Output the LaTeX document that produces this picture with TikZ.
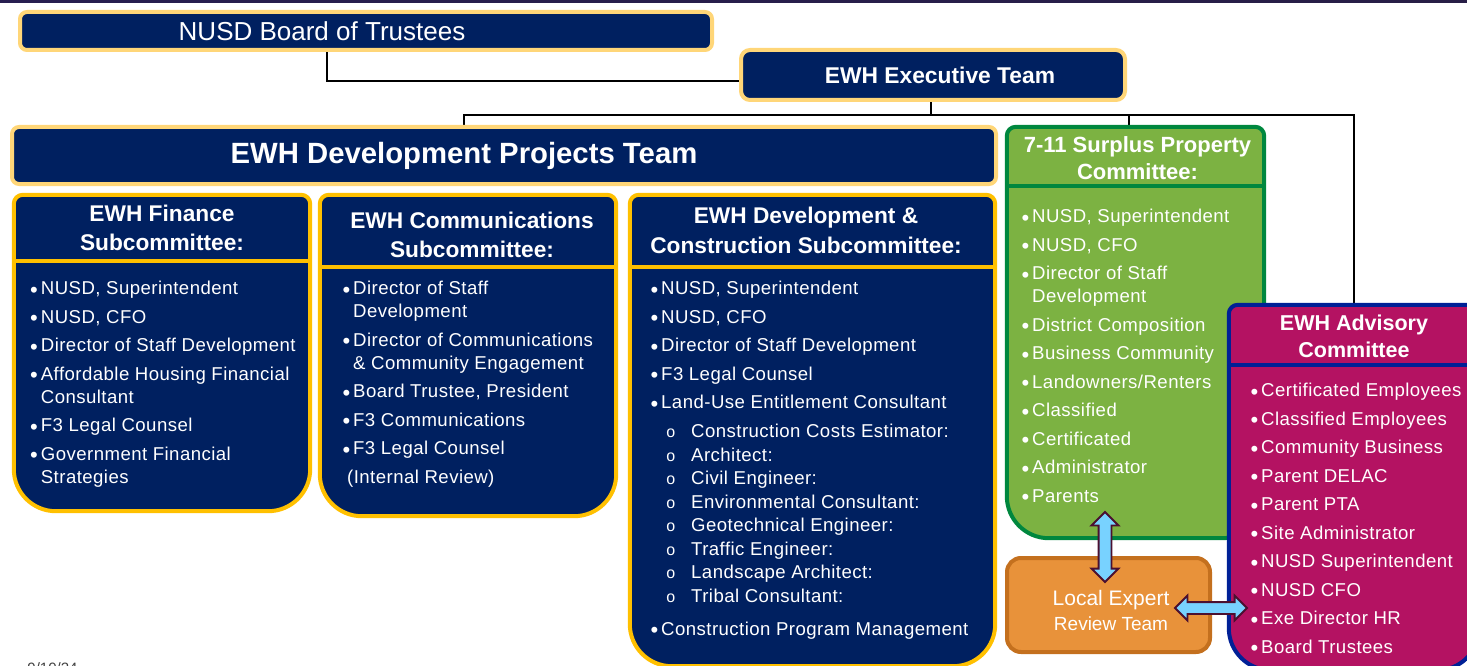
\documentclass[tikz,border=0pt]{standalone}
\usepackage{fontspec}
\setmainfont{Liberation Sans}
\newfontfamily\listfont{Liberation Sans}[LetterSpace=2.4]
\usepackage{tikz}
\usetikzlibrary{shapes.arrows, backgrounds}

\definecolor{navy}{RGB}{0,32,96}
\definecolor{paleGold}{RGB}{255,214,120}
\definecolor{gold}{RGB}{255,192,0}
\definecolor{leaf}{RGB}{124,178,66}
\definecolor{leafEdge}{RGB}{0,135,62}
\definecolor{berry}{RGB}{180,18,98}
\definecolor{berryEdge}{RGB}{0,32,150}
\definecolor{amber}{RGB}{232,146,58}
\definecolor{amberEdge}{RGB}{196,112,30}
\definecolor{sky}{RGB}{120,210,255}
\definecolor{plum}{RGB}{75,16,48}
\definecolor{barL}{RGB}{40,30,80}
\definecolor{barM}{RGB}{95,42,95}
\definecolor{barR}{RGB}{40,30,70}

\newcommand{\bul}{\llap{\raisebox{-2.6pt}{\fontsize{22}{22}\selectfont\textbullet}\hspace{3pt}}}
\newcommand{\subbul}{\llap{\fontsize{16}{16}\selectfont o\hspace{16pt}}}
% committee outline: small top corners, large bottom corners, rule under the header
\newcommand{\panelshape}[4]{%
	\filldraw[fill=#2, draw=#3, line width=4pt]
		(#1.north) [rounded corners=9pt] -| (#1.east)
		[rounded corners=42pt] |- (#1.south) -| (#1.west)
		[rounded corners=9pt] |- (#1.north);
	\draw[#3, line width=4pt] (#1.west |- 0,#4) -- (#1.east |- 0,#4);}

\begin{document}
\begin{tikzpicture}[x=1pt, y=-1pt]
	\tikzstyle{team} = [rectangle, rounded corners=7pt, fill=navy, draw=paleGold, line width=4pt, text=white, inner sep=0pt]
	\tikzstyle{panel} = [rectangle, inner sep=0pt]
	\tikzstyle{head} = [text=white, align=center, inner sep=0pt, font=\bfseries\fontsize{22.7}{29.5}\selectfont]
	\tikzstyle{body} = [text=white, align=left, anchor=north west, inner sep=0pt, font=\listfont\fontsize{18.6}{23}\selectfont]
	\tikzstyle{link} = [line width=2pt, draw=black]
	\tikzstyle{twoway} = [double arrow, fill=sky, draw=plum, line width=1.8pt, inner xsep=0pt, inner ysep=5.5pt, double arrow head extend=7pt, double arrow tip angle=90]

	\useasboundingbox (0,0) rectangle (1467,666);
	\clip (0,0) rectangle (1467,666);
	\fill[left color=barL, middle color=barM, right color=barR] (0,0) rectangle (1467,3);

	% top row
	\node[team, minimum width=692pt, minimum height=38pt, font=\fontsize{26}{30}\selectfont] at (366,31) (board) {NUSD Board of Trustees\hspace*{88pt}};
	\node[team, rounded corners=9pt, minimum width=384pt, minimum height=50pt, font=\bfseries\fontsize{22.8}{26}\selectfont] at (933,75) (exec) {\hspace*{14pt}EWH Executive Team};
	\node[team, minimum width=984pt, minimum height=57pt, font=\bfseries\fontsize{29.3}{32}\selectfont] at (504,155.5) (dpt) {EWH Development Projects Team\hspace*{80pt}};

	% committee frames
	\node[panel, minimum width=296pt, minimum height=316pt] at (162,353) (fin) {};
	\node[panel, minimum width=296pt, minimum height=321pt] at (468,355.5) (com) {};
	\node[panel, minimum width=365pt, minimum height=471pt] at (812.5,430.5) (dev) {};
	\node[panel, minimum width=257pt, minimum height=411pt] at (1135.5,332.5) (sur) {};
	\node[panel, minimum width=250pt, minimum height=365pt] at (1354,487.5) (adv) {};

	\coordinate (bus) at (0,115);
	\begin{pgfonlayer}{background}
		\draw[link] (board.south -| 327,0) |- (exec.west |- 0,81);
		\draw[link] (exec.south -| 931,0) -- (931,0 |- bus);
		\draw[link] (dpt.north -| 464,0) |- (adv.north |- bus) -- (adv.north);
		\draw[link] (sur.north -| 1129,0) -- (1129,0 |- bus);
	\end{pgfonlayer}

	\panelshape{fin}{navy}{gold}{261}
	\panelshape{com}{navy}{gold}{267}
	\panelshape{dev}{navy}{gold}{267}
	\panelshape{sur}{leaf}{leafEdge}{186}

	\node[head] at (162,228) (finHead) {EWH Finance\\Subcommittee:};
	\node[head] at (472,235) (comHead) {EWH Communications\\Subcommittee:};
	\node[head] at (806,230.5) (devHead) {EWH Development \&\\Construction Subcommittee:};
	\node[head, font=\bfseries\fontsize{22}{27}\selectfont] at (1137.5,158.5) (surHead) {7-11 Surplus Property\\Committee:};

	\node[body] at (40.7,281) (finList) {\bul NUSD, Superintendent\\[5.5pt]
		\bul NUSD, CFO\\[5.5pt]
		\bul Director of Staff Development\\[5.5pt]
		\bul Affordable Housing Financial\\
		Consultant\\[5.5pt]
		\bul F3 Legal Counsel\\[5.5pt]
		\bul Government Financial\\
		Strategies};
	\node[body] at (353,281) (comList) {\bul Director of Staff\\
		Development\\[5.5pt]
		\bul Director of Communications\\
		\& Community Engagement\\[5.5pt]
		\bul Board Trustee, President\\[5.5pt]
		\bul F3 Communications\\[5.5pt]
		\bul F3 Legal Counsel\\[5.5pt]
		\hspace*{-6pt}(Internal Review)};
	\node[body] at (661,281) (devList) {\bul NUSD, Superintendent\\[5.5pt]
		\bul NUSD, CFO\\[5.5pt]
		\bul Director of Staff Development\\[5.5pt]
		\bul F3 Legal Counsel\\[5.5pt]
		\bul Land-Use Entitlement Consultant\\[6pt]
		\hspace*{30pt}\subbul Construction Costs Estimator:\\[0.5pt]
		\hspace*{30pt}\subbul Architect:\\[0.5pt]
		\hspace*{30pt}\subbul Civil Engineer:\\[0.5pt]
		\hspace*{30pt}\subbul Environmental Consultant:\\[0.5pt]
		\hspace*{30pt}\subbul Geotechnical Engineer:\\[0.5pt]
		\hspace*{30pt}\subbul Traffic Engineer:\\[0.5pt]
		\hspace*{30pt}\subbul Landscape Architect:\\[0.5pt]
		\hspace*{30pt}\subbul Tribal Consultant:\\[10pt]
		\bul Construction Program Management};
	\node[body] at (1032,209) (surList) {\bul NUSD, Superintendent\\[5.5pt]
		\bul NUSD, CFO\\[5.5pt]
		\bul Director of Staff\\
		Development\\[5.5pt]
		\bul District Composition\\[5.5pt]
		\bul Business Community\\[5.5pt]
		\bul Landowners/Renters\\[5.5pt]
		\bul Classified\\[5.5pt]
		\bul Certificated\\[5.5pt]
		\bul Administrator\\[5.5pt]
		\bul Parents};

	% local review team and advisory committee
	\node[rectangle, rounded corners=14pt, fill=amber, draw=amberEdge, line width=4pt, minimum width=203pt, minimum height=94pt, inner sep=0pt] at (1108.5,605) (lexp) {};
	\node[text=white, align=center, inner sep=0pt, font=\fontsize{21}{25}\selectfont] at (1111,610.5) (lexpText) {Local Expert\\{\fontsize{19}{25}\selectfont Review Team}};

	\panelshape{adv}{berry}{berryEdge}{365}
	\node[head, font=\bfseries\fontsize{21.5}{27}\selectfont] at (1354,336.5) (advHead) {EWH Advisory\\Committee};
	\node[body] at (1261,383) (advList) {\bul Certificated Employees\\[5.5pt]
		\bul Classified Employees\\[5.5pt]
		\bul Community Business\\[5.5pt]
		\bul Parent DELAC\\[5.5pt]
		\bul Parent PTA\\[5.5pt]
		\bul Site Administrator\\[5.5pt]
		\bul NUSD Superintendent\\[5.5pt]
		\bul NUSD CFO\\[5.5pt]
		\bul Exe Director HR\\[5.5pt]
		\bul Board Trustees};

	\node[twoway, minimum height=70pt, rotate=90] at (1105,547) (upDown) {};
	\node[twoway, minimum height=72pt, inner ysep=5pt, double arrow head extend=6.5pt] at (1211,608) (sideways) {};

	\node[text=black!75, inner sep=0pt, font=\fontsize{15}{15}\selectfont] at (52.5,668) (stamp) {9/10/24};
\end{tikzpicture}
\end{document}
